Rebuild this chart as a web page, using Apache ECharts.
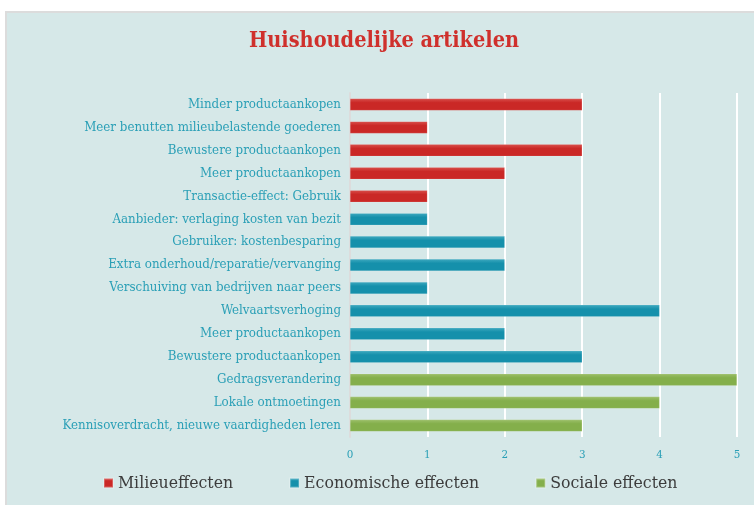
<!DOCTYPE html>
<html><head><meta charset="utf-8">
<script src="https://cdn.jsdelivr.net/npm/echarts@6/dist/echarts.min.js"></script>
<style>html,body{margin:0;padding:0;background:#fff}#c{width:754px;height:505px}</style>
</head><body><div id="c"></div>
<script>
const categories = [
  "Minder productaankopen",
  "Meer benutten milieubelastende goederen",
  "Bewustere productaankopen",
  "Meer productaankopen",
  "Transactie-effect: Gebruik",
  "Aanbieder: verlaging kosten van bezit",
  "Gebruiker: kostenbesparing",
  "Extra onderhoud/reparatie/vervanging",
  "Verschuiving van bedrijven naar peers",
  "Welvaartsverhoging",
  "Meer productaankopen",
  "Bewustere productaankopen",
  "Gedragsverandering",
  "Lokale ontmoetingen",
  "Kennisoverdracht, nieuwe vaardigheden leren"
];
const seriesNames = ["Milieueffecten", "Economische effecten", "Sociale effecten"];
const milieu =     [3, 1, 3, 2, 1, null, null, null, null, null, null, null, null, null, null];
const economisch = [null, null, null, null, null, 1, 2, 2, 1, 4, 2, 3, null, null, null];
const sociaal =    [null, null, null, null, null, null, null, null, null, null, null, null, 5, 4, 3];
const xTicks = [0, 1, 2, 3, 4, 5];

const FONT = "'DejaVu Serif Condensed', 'DejaVu Serif', serif";
function grad(top, bottom) {
  return new echarts.graphic.LinearGradient(0, 0, 0, 1, [
    {offset: 0, color: top}, {offset: 0.35, color: bottom}, {offset: 1, color: bottom}
  ]);
}
const colors = [
  {c: '#cc2a29', g: grad('#d9504c', '#ca2826')},
  {c: '#1893ad', g: grad('#40aac0', '#1590ab')},
  {c: '#86b04e', g: grad('#9dc06b', '#84af4b')}
];
const datas = [milieu, economisch, sociaal];

const chart = echarts.init(document.getElementById('c'));
chart.setOption({
  animation: false,
  backgroundColor: '#ffffff',
  graphic: [{
    type: 'rect', z: -10, silent: true,
    shape: {x: 6, y: 12, width: 760, height: 500},
    style: {fill: '#d6e8e8', stroke: '#dcdcdc', lineWidth: 2}
  }],
  title: {
    text: 'Huishoudelijke artikelen',
    left: 379, top: 25, textAlign: 'center',
    textStyle: {fontFamily: FONT, fontSize: 21.5, fontWeight: 'bold', color: '#cf302c'}
  },
  legend: {
    top: 474, left: 103, itemGap: 56, padding: 0,
    itemWidth: 9, itemHeight: 9, icon: 'rect',
    textStyle: {fontFamily: FONT, fontSize: 17.5, color: '#3c3c3c'},
    data: seriesNames
  },
  grid: {left: 350, right: 17, top: 93, bottom: 68, containLabel: false},
  xAxis: {
    type: 'value', min: xTicks[0], max: xTicks[xTicks.length - 1], interval: 1,
    axisLine: {show: false}, axisTick: {show: false},
    splitLine: {show: true, lineStyle: {color: '#ffffff', width: 2}},
    axisLabel: {fontFamily: FONT, fontSize: 11.5, color: '#2a9fb6', margin: 12}
  },
  yAxis: {
    type: 'category', data: categories, inverse: true,
    axisLine: {show: true, lineStyle: {color: '#dcdcdc', width: 2}},
    axisTick: {show: false},
    axisLabel: {fontFamily: FONT, fontSize: 13.2, color: '#2a9fb6', margin: 9, interval: 0}
  },
  series: datas.map((d, i) => ({
    name: seriesNames[i], type: 'bar', stack: 'all', data: d,
    barWidth: 12,
    itemStyle: {color: colors[i].g, borderColor: 'rgba(255,255,255,0.25)', borderWidth: 0.5},
    color: colors[i].c
  }))
});
</script></body></html>
